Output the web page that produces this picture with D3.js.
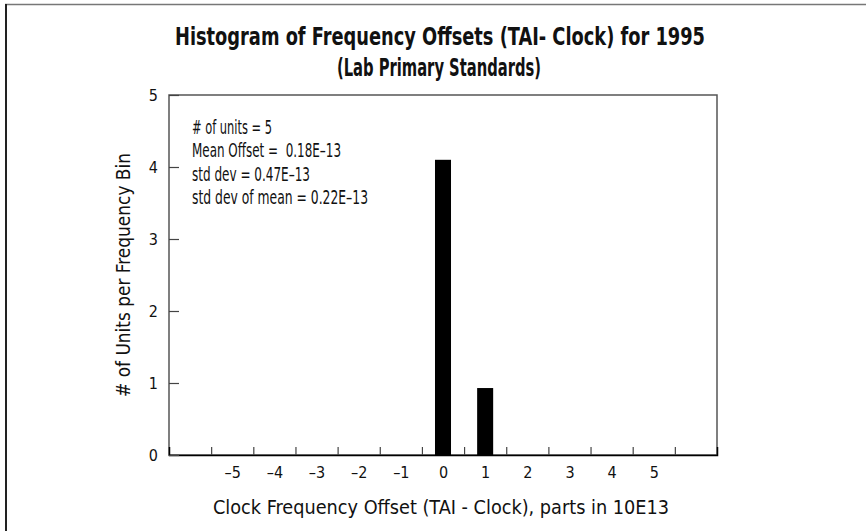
<!DOCTYPE html>
<html>
<head>
    <meta charset="utf-8">
    <style>
        body { margin: 0; background: white; }
        svg { display: block; }
        text { font-family: "DejaVu Sans", sans-serif; font-stretch: condensed; fill: #111; }
    </style>
    <title>Histogram of Frequency Offsets</title>
</head>
<body>
    <script src="https://cdn.jsdelivr.net/npm/d3@7/dist/d3.min.js"></script>
    <script>
        // bins (parts in 10E13) and number of units
        var offsets = [-5, -4, -3, -2, -1, 0, 1, 2, 3, 4, 5]
        var counts = [0, 0, 0, 0, 0, 4.1, 0.93, 0, 0, 0, 0]
        var yTicks = [0, 1, 2, 3, 4, 5]
        var binEdges = [-5.5, -4.5, -3.5, -2.5, -1.5, -0.5, 0.5, 1.5, 2.5, 3.5, 4.5, 5.5]
        var statLines = [
            "# of units = 5",
            "Mean Offset =  0.18E\u201313",
            "std dev = 0.47E\u201313",
            "std dev of mean = 0.22E\u201313"
        ]
        var statWidths = [80, 149, 118, 176]

        var width = 866, height = 531
        var plot = {left: 169, right: 717, top: 95, bottom: 455}
        var fontStack = "'DejaVu Sans', sans-serif"

        var svg = d3.select("body").append("svg")
            .attr("width", width)
            .attr("height", height)

        // outer frame (top and left edges only)
        svg.append("line")
            .attr("x1", 5).attr("x2", width).attr("y1", 4.5).attr("y2", 4.5)
            .attr("stroke", "#777").attr("stroke-width", 1.5)
        svg.append("line")
            .attr("x1", 6).attr("x2", 6).attr("y1", 4).attr("y2", height)
            .attr("stroke", "#222").attr("stroke-width", 2)

        var x = d3.scaleLinear().domain([-6.5, 6.5]).range([plot.left, plot.right])
        var y = d3.scaleLinear().domain([0, 5]).range([plot.bottom, plot.top])

        // title (squeezed to the condensed width of the original)
        svg.append("text")
            .attr("x", 440).attr("y", 45)
            .attr("text-anchor", "middle")
            .attr("textLength", 530).attr("lengthAdjust", "spacingAndGlyphs")
            .style("font-weight", "bold").style("font-size", "25px")
            .text("Histogram of Frequency Offsets (TAI- Clock) for 1995")
        svg.append("text")
            .attr("x", 439).attr("y", 76)
            .attr("text-anchor", "middle")
            .attr("textLength", 204).attr("lengthAdjust", "spacingAndGlyphs")
            .style("font-weight", "bold").style("font-size", "25px")
            .text("(Lab Primary Standards)")

        // plot frame
        svg.append("rect")
            .attr("x", plot.left).attr("y", plot.top)
            .attr("width", plot.right - plot.left)
            .attr("height", plot.bottom - plot.top)
            .attr("fill", "none")
            .attr("stroke", "#555")
            .attr("stroke-width", 1.5)

        // bars
        var half = 0.19
        svg.selectAll("rect.bar")
            .data(offsets.map((o, i) => ({offset: o, count: counts[i]})).filter(d => d.count > 0))
            .enter().append("rect")
            .attr("class", "bar")
            .attr("x", d => x(d.offset - half))
            .attr("width", d => x(d.offset + half) - x(d.offset - half))
            .attr("y", d => y(d.count))
            .attr("height", d => y(0) - y(d.count))
            .attr("fill", "black")

        // x axis: tick marks at bin edges, labels at bin centres
        var xTickAxis = svg.append("g")
            .attr("transform", `translate(0,${plot.bottom})`)
            .call(d3.axisBottom(x).tickValues(binEdges).tickSize(-8).tickFormat(""))
        xTickAxis.select(".domain").attr("stroke", "black").attr("stroke-width", 1.5)
        xTickAxis.selectAll(".tick line").attr("stroke", "#444").attr("stroke-width", 1.2)

        var xLabelAxis = svg.append("g")
            .attr("transform", `translate(0,${plot.bottom})`)
            .call(d3.axisBottom(x).tickValues(offsets).tickSize(0).tickPadding(12)
                .tickFormat(d => d < 0 ? "\u2013" + Math.abs(d) : d))
        xLabelAxis.select(".domain").remove()
        xLabelAxis.selectAll("text")
            .style("font-family", fontStack).style("font-stretch", "condensed")
            .style("font-size", "16px").attr("fill", "#111")

        // y axis with inward ticks
        var yAxis = svg.append("g")
            .attr("transform", `translate(${plot.left},0)`)
            .call(d3.axisLeft(y).tickValues(yTicks).tickSize(-10).tickPadding(11).tickFormat(d3.format("d")))
        yAxis.select(".domain").remove()
        yAxis.selectAll(".tick line").attr("stroke", "#444").attr("stroke-width", 1.2)
        yAxis.selectAll("text")
            .style("font-family", fontStack).style("font-stretch", "condensed")
            .style("font-size", "16px").attr("fill", "#111")

        // axis titles
        svg.append("text")
            .attr("text-anchor", "middle")
            .attr("transform", `translate(130,${(plot.top + plot.bottom) / 2}) rotate(-90)`)
            .attr("textLength", 244).attr("lengthAdjust", "spacingAndGlyphs")
            .style("font-size", "20px")
            .text("# of Units per Frequency Bin")

        svg.append("text")
            .attr("x", 441)
            .attr("y", 514)
            .attr("text-anchor", "middle")
            .attr("textLength", 456).attr("lengthAdjust", "spacingAndGlyphs")
            .style("font-size", "20px")
            .text("Clock Frequency Offset (TAI - Clock), parts in 10E13")

        // statistics block
        svg.append("g").selectAll("text")
            .data(statLines)
            .enter().append("text")
            .attr("x", 192)
            .attr("y", (d, i) => 134 + i * 23.3)
            .attr("textLength", (d, i) => statWidths[i])
            .attr("lengthAdjust", "spacingAndGlyphs")
            .attr("xml:space", "preserve")
            .style("font-size", "20px")
            .text(d => d)
    </script>
</body>
</html>
